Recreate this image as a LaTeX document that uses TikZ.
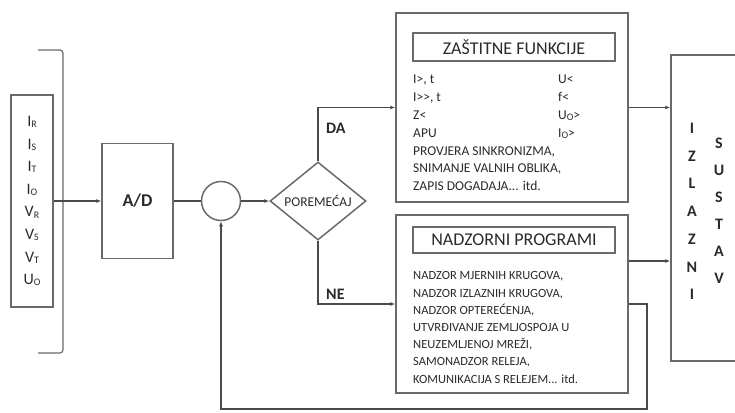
\documentclass[tikz,border=0pt]{standalone}
\usepackage{fontspec}
\setmainfont{Carlito}[Ligatures=TeXOff]
\usetikzlibrary{arrows.meta,shapes.geometric}
\definecolor{boxc}{HTML}{6A6A6A}
\definecolor{linec}{HTML}{4A4A4A}
\definecolor{txtc}{HTML}{2A2A2A}
\newcommand{\sbs}[1]{\raisebox{-1.2pt}{\fontsize{10}{10}\selectfont #1}}
\begin{document}
\begin{tikzpicture}[x=1pt,y=-1pt,
  boxst/.style={draw=boxc,line width=1.5pt,inner sep=0pt,text=txtc},
  conn/.style={draw=linec,line width=1.3pt},
  arr/.style={conn,-{Latex[length=5pt,width=4pt]}},
  lbl/.style={text=txtc,inner sep=0pt}]
\useasboundingbox (0,0) rectangle (735,412);
% bracket
\draw[draw=boxc,line width=1.2pt,rounded corners=3pt] (38,50) -- (63,50) -- (63,353) -- (38,353);
% input box
\node[boxst,minimum width=42pt,minimum height=212pt,align=center,
  font=\fontsize{16}{22.6}\selectfont] (inp) at (32,201)
  {I\sbs{R}\\I\sbs{S}\\I\sbs{T}\\I\sbs{O}\\V\sbs{R}\\V\sbs{S}\\V\sbs{T}\\U\sbs{O}};
% A/D
\node[boxst,minimum width=71pt,minimum height=115pt,font=\fontsize{18}{20}\selectfont\bfseries] (ad) at (137.5,201) {A/D};
% summing circle
\node[boxst,circle,minimum size=39pt] (sum) at (221,201) {};
% decision
\node[boxst,diamond,aspect=1.23,minimum width=96pt,minimum height=78pt,
  font=\fontsize{13.5}{14}\selectfont] (dec) at (318,201) {POREMEĆAJ};
% protection functions box
\node[boxst,minimum width=232pt,minimum height=189pt] (zas) at (512,107.5) {};
\node[boxst,minimum width=202pt,minimum height=28pt,font=\fontsize{18}{20}\selectfont] (zt) at (514,47) {ZAŠTITNE FUNKCIJE};
\node[lbl,anchor=north west,align=left,font=\fontsize{13.5}{17.8}\selectfont] (zl) at (413,75)
  {I>, t\\I>>, t\\Z<\\APU\\PROVJERA SINKRONIZMA,\\SNIMANJE VALNIH OBLIKA,\\ZAPIS DOGADAJA... itd.};
\node[lbl,anchor=north west,align=left,font=\fontsize{13.5}{17.8}\selectfont] (zr) at (558,75)
  {U<\\f<\\U\sbs{O}>\\I\sbs{O}>};
% supervision box
\node[boxst,minimum width=232pt,minimum height=178pt] (nad) at (512,304) {};
\node[boxst,minimum width=202pt,minimum height=26pt,font=\fontsize{18}{20}\selectfont] (nt) at (514,240) {NADZORNI PROGRAMI};
\node[lbl,anchor=north west,align=left,font=\fontsize{12.5}{17.2}\selectfont] (nl) at (413,271.5)
  {NADZOR MJERNIH KRUGOVA,\\NADZOR IZLAZNIH KRUGOVA,\\NADZOR OPTEREĆENJA,\\UTVRĐIVANJE ZEMLJOSPOJA U\\NEUZEMLJENOJ MREŽI,\\SAMONADZOR RELEJA,\\KOMUNIKACIJA S RELEJEM... itd.};
% output system
\node[boxst,minimum width=80pt,minimum height=306pt] (out) at (711,208) {};
\node[lbl,align=center,font=\fontsize{16}{27.7}\selectfont\bfseries] (iz) at (692,211.5) {I\\Z\\L\\A\\Z\\N\\I};
\node[lbl,align=center,font=\fontsize{16}{27}\selectfont\bfseries] (su) at (719,210.5) {S\\U\\S\\T\\A\\V};
% connectors
\draw[arr] (inp.east) -- (ad.west);
\draw[conn] (ad.east) -- (sum.west);
\draw[arr] (sum.east) -- (dec.west);
\draw[arr] (dec.north) |- (zas.west);
\draw[arr] (dec.south) |- (nad.west);
\node[lbl,anchor=west,font=\fontsize{16}{18}\selectfont\bfseries] (da) at (326,128) {DA};
\node[lbl,anchor=west,font=\fontsize{16}{18}\selectfont\bfseries] (ne) at (326,294) {NE};
\draw[arr] (zas.east) -- (zas.east -| out.west);
\draw[arr] ([yshift=43pt]nad.east) -- ([yshift=43pt]nad.east -| out.west);
\coordinate (fb) at (647,409);
\draw[arr] (nad.east) -| (fb) -| (sum.south);
\end{tikzpicture}
\end{document}
